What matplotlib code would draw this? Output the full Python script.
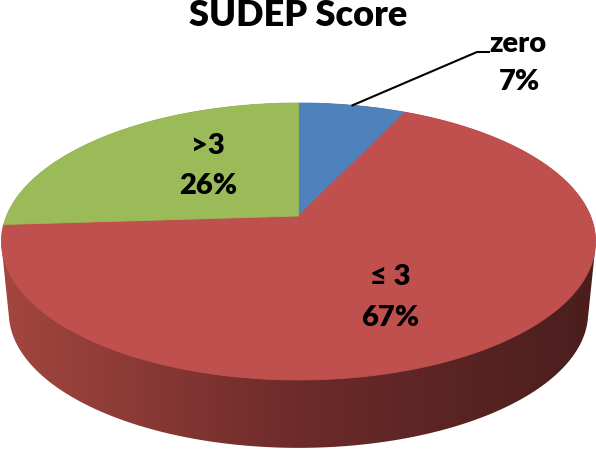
import numpy as np
import matplotlib
matplotlib.use('Agg')
import matplotlib.pyplot as plt
from matplotlib.colors import LinearSegmentedColormap
from matplotlib.patches import Polygon

# datos del gráfico
labels = ['zero', '≤ 3', '>3']
values = [7, 67, 26]
colors = ['#4f81bd', '#c0504d', '#9bbb59']
title = 'SUDEP Score'

# geometría en píxeles (pastel 3D con perspectiva)
W, H = 596, 451
cx, cy = 298.5, 216.0     # centro del pastel (vértice de las porciones)
A, B = 292.0, 133.8       # semiejes
k = 0.184                 # perspectiva
depth, shrink = 72.0, 0.975

plt.rcParams['font.family'] = ['Lato', 'DejaVu Sans']


def project(phi, r=1.0, dy=0.0, s=1.0):
    u = r * np.sin(phi)
    v = -r * np.cos(phi)
    w = 1 - k * v
    return cx + s * A * u / w, cy + dy + s * B * v / w


def hull(pts):
    pts = sorted(map(tuple, pts))
    def half(seq):
        out = []
        for p in seq:
            while len(out) >= 2 and ((out[-1][0] - out[-2][0]) * (p[1] - out[-2][1])
                                     - (out[-1][1] - out[-2][1]) * (p[0] - out[-2][0])) <= 0:
                out.pop()
            out.append(p)
        return out
    lo, up = half(pts), half(pts[::-1])
    return np.array(lo[:-1] + up[:-1])


fig = plt.figure(figsize=(W / 100, H / 100), dpi=100)
ax = fig.add_axes([0, 0, 1, 1])
ax.set_xlim(0, W)
ax.set_ylim(H, 0)
ax.axis('off')

# lateral (solo visible la porción roja), con degradado horizontal
t = np.linspace(0, 2 * np.pi, 400)
tx, ty = project(t)
bx, by = project(t, dy=depth, s=shrink)
side = hull(np.column_stack([np.r_[tx, bx], np.r_[ty, by]]))
side_patch = Polygon(side, closed=True, facecolor='none', edgecolor='none')
ax.add_patch(side_patch)
cmap = LinearSegmentedColormap.from_list('side', ['#a4463f', '#6c2b2a', '#4a1e1d'])
img = ax.imshow(np.linspace(0, 1, 256)[None, :], cmap=cmap, aspect='auto',
                extent=[side[:, 0].min(), side[:, 0].max(), side[:, 1].max(), side[:, 1].min()],
                zorder=1)
img.set_clip_path(side_patch)

# cara superior
frac = np.array(values) / sum(values)
edges = np.r_[0, np.cumsum(frac)] * 2 * np.pi
for i in range(len(values)):
    a = np.linspace(edges[i], edges[i + 1], 200)
    px, py = project(a)
    poly = np.column_stack([np.r_[cx, px], np.r_[cy, py]])
    ax.add_patch(Polygon(poly, closed=True, facecolor=colors[i], edgecolor=colors[i],
                         linewidth=0.6, zorder=2))

# etiquetas
fs = 21
kw = dict(ha='center', va='center', fontsize=fs, fontweight='heavy', zorder=3)
ax.text(208, 146, labels[2], **kw)
ax.text(208, 186, f'{values[2]}%', **kw)
ax.text(390, 277, labels[1], **kw)
ax.text(390, 318, f'{values[1]}%', **kw)
ax.text(518, 44, labels[0], **kw)
ax.text(520, 82, f'{values[0]}%', **kw)

# línea guía de "zero"
ex, ey = project((edges[0] + edges[1]) / 2)
ax.plot([ex, 477, 489], [ey, 52, 52], color='black', linewidth=1.5, zorder=3)

ax.text(W / 2, 16, title, ha='center', va='center', fontsize=26, fontweight='heavy')

fig.savefig('out.png', dpi=100)
